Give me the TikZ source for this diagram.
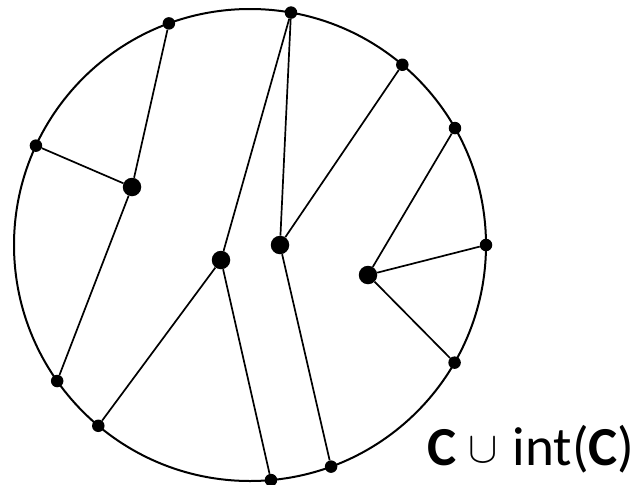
\documentclass[tikz,border=0pt]{standalone}
\usepackage{fontspec}
\setmainfont{Carlito}
\newcommand{\bigcupsym}{\raisebox{3pt}{\scalebox{4.4}{\fontsize{10}{12}\selectfont$\cup$}}}
\begin{document}
\begin{tikzpicture}[x=1pt,y=1pt,
  dot/.style={circle,fill=black,inner sep=0pt,minimum size=12.5pt},
  bigdot/.style={circle,fill=black,inner sep=0pt,minimum size=18.5pt},
  edge/.style={line width=1.7pt},
  rim/.style={line width=2pt}]
\useasboundingbox (0,0) rectangle (638,-485);
\coordinate (O) at (250,-245);
\draw[rim] (O) circle (236);
% boundary points
\node[dot] (A) at ([shift={(110.1:236)}]O) {};
\node[dot] (B) at ([shift={(80.0:236)}]O) {};
\node[dot] (C) at ([shift={(49.8:236)}]O) {};
\node[dot] (D) at ([shift={(29.7:236)}]O) {};
\node[dot] (E) at ([shift={(0:236)}]O) {};
\node[dot] (F) at ([shift={(-29.9:236)}]O) {};
\node[dot] (G) at ([shift={(-69.9:236)}]O) {};
\node[dot] (H) at ([shift={(-84.9:236)}]O) {};
\node[dot] (I) at ([shift={(-130:236)}]O) {};
\node[dot] (J) at ([shift={(-144.8:236)}]O) {};
\node[dot] (K) at ([shift={(155.1:236)}]O) {};
% interior points
\node[bigdot] (P1) at (132,-187) {};
\node[bigdot] (P2) at (221,-260) {};
\node[bigdot] (P3) at (280,-245) {};
\node[bigdot] (P4) at (368,-275) {};
% edges
\draw[edge] (A) -- (P1);
\draw[edge] (K) -- (P1);
\draw[edge] (P1) -- (J);
\draw[edge] (B) -- (P2);
\draw[edge] (P2) -- (I);
\draw[edge] (P2) -- (H);
\draw[edge] (B) -- (P3);
\draw[edge] (P3) -- (C);
\draw[edge] (P3) -- (G);
\draw[edge] (P4) -- (D);
\draw[edge] (P4) -- (E);
\draw[edge] (P4) -- (F);
% label
\node[font=\fontsize{55}{60}\selectfont, anchor=base west, inner sep=0pt] (T) at (427,-465) {\textbf{C}\hspace{12pt}\bigcupsym\hspace{15pt}int(\textbf{C})};
\end{tikzpicture}
\end{document}
